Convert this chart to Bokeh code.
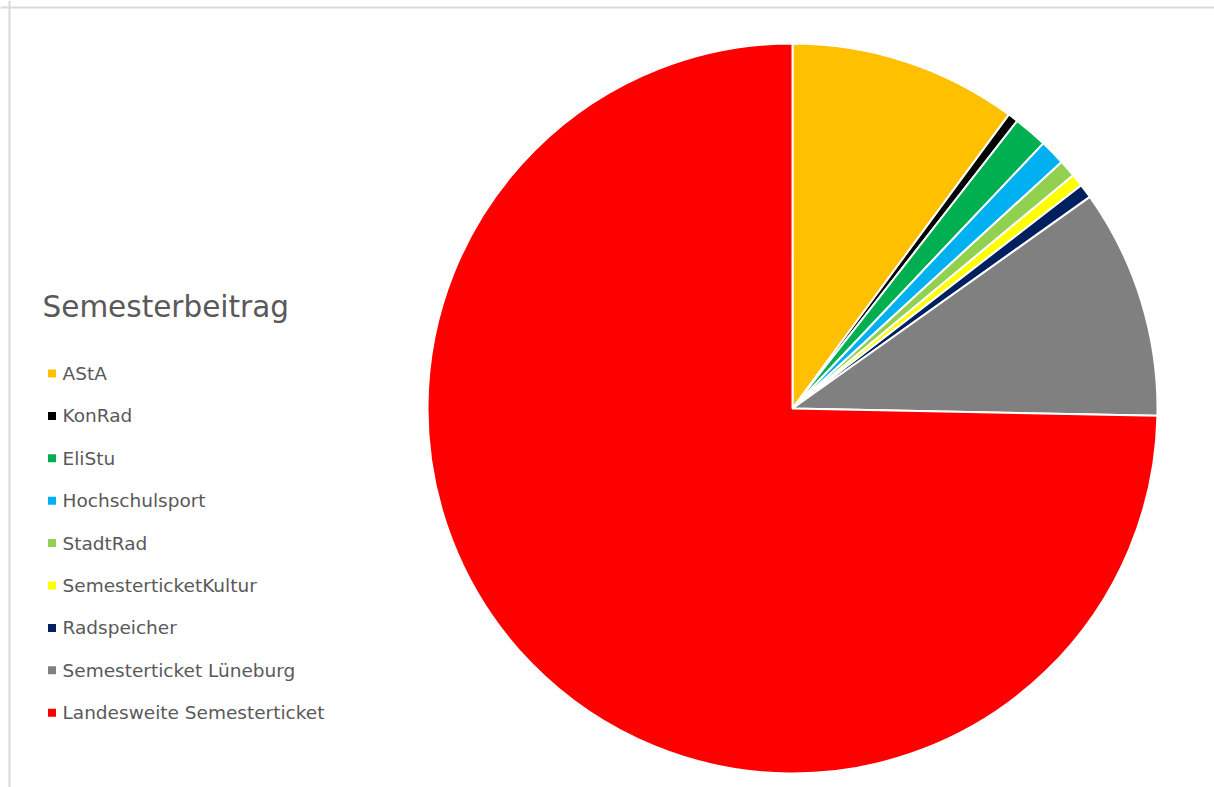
import math
from bokeh.plotting import figure
from bokeh.models import Range1d, Span, ColumnDataSource
from bokeh.core.properties import value
from bokeh.embed import file_html
from bokeh.resources import INLINE

categories = ["AStA", "KonRad", "EliStu", "Hochschulsport", "StadtRad",
              "SemesterticketKultur", "Radspeicher", "Semesterticket Lüneburg",
              "Landesweite Semesterticket"]
values = [10.1, 0.46, 1.5, 1.14, 0.77, 0.56, 0.63, 10.16, 74.7]
colors = ["#FFC000", "#000000", "#00B050", "#00B0F0", "#92D050",
          "#FFFF00", "#002060", "#808080", "#FF0000"]
title_text = "Semesterbeitrag"

W, H = 1214, 787
p = figure(width=W, height=H, output_backend="svg", toolbar_location=None,
           x_range=Range1d(0, W), y_range=Range1d(0, H),
           x_axis_location=None, y_axis_location=None,
           min_border=0, min_border_left=0, min_border_right=0,
           min_border_top=0, min_border_bottom=0)
p.grid.visible = False
p.outline_line_color = None
p.background_fill_color = "white"
p.border_fill_color = "white"

# chart-area border (top and left edges visible)
p.add_layout(Span(location=H - 7, dimension="width", line_color="#d9d9d9", line_width=2))
p.add_layout(Span(location=9, dimension="height", line_color="#d9d9d9", line_width=2))

total = sum(values)
starts, ends = [], []
cum = 0.0
for v in values:
    starts.append(math.pi / 2 - cum / total * 2 * math.pi)
    cum += v
    ends.append(math.pi / 2 - cum / total * 2 * math.pi)

cx, cy, r = 792, H - 408, 365
src = ColumnDataSource(dict(start=starts, end=ends, color=colors, cat=categories))
p.wedge(x=cx, y=cy, radius=r, start_angle="start", end_angle="end",
        direction="clock", fill_color="color", line_color="white",
        line_width=2, source=src)

# legend
font = value("DejaVu Sans")
p.text(x=[42], y=[H - 306], text=[title_text], text_font=font,
       text_font_size="29.5px", text_color="#595959",
       text_baseline="middle", text_align="left")

ly = [H - (373 + i * 42.4) for i in range(len(categories))]
lsrc = ColumnDataSource(dict(y=ly, cat=categories, color=colors,
                             x=[51.5] * len(categories), tx=[62] * len(categories)))
p.rect(x="x", y="y", width=8, height=8, fill_color="color", line_color=None, source=lsrc)
p.text(x="tx", y="y", text="cat", text_font=font, text_font_size="18.5px",
       text_color="#595959", text_baseline="middle", text_align="left", source=lsrc)

open("out.html", "w").write(file_html(p, INLINE))
